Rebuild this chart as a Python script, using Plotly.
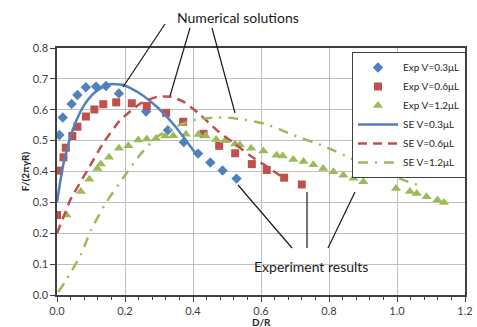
import plotly.graph_objects as go

# Experimental data
exp03_x = [0.007, 0.017, 0.043, 0.06, 0.085, 0.115, 0.144, 0.182, 0.262, 0.326, 0.373, 0.415, 0.451, 0.487, 0.528]
exp03_y = [0.518, 0.575, 0.619, 0.648, 0.673, 0.675, 0.677, 0.653, 0.594, 0.534, 0.495, 0.458, 0.429, 0.403, 0.377]

exp06_x = [0.0, 0.006, 0.019, 0.026, 0.045, 0.06, 0.085, 0.11, 0.136, 0.174, 0.22, 0.264, 0.321, 0.371, 0.431, 0.477, 0.524, 0.573, 0.617, 0.668, 0.72]
exp06_y = [0.259, 0.403, 0.446, 0.477, 0.515, 0.545, 0.578, 0.601, 0.618, 0.624, 0.621, 0.612, 0.59, 0.561, 0.522, 0.483, 0.459, 0.424, 0.405, 0.38, 0.358]

exp12_x = [0.028, 0.07, 0.095, 0.119, 0.129, 0.153, 0.182, 0.21, 0.239, 0.264, 0.291, 0.318, 0.342, 0.379, 0.416, 0.437, 0.468, 0.494, 0.524, 0.538, 0.571, 0.607, 0.646, 0.664, 0.695, 0.725, 0.754, 0.783, 0.813, 0.842, 0.872, 0.901, 0.997, 1.038, 1.058, 1.087, 1.119, 1.138]
exp12_y = [0.259, 0.335, 0.375, 0.41, 0.424, 0.446, 0.475, 0.483, 0.502, 0.505, 0.507, 0.515, 0.516, 0.521, 0.52, 0.515, 0.504, 0.5, 0.489, 0.486, 0.475, 0.466, 0.453, 0.45, 0.439, 0.432, 0.422, 0.41, 0.399, 0.388, 0.378, 0.367, 0.345, 0.335, 0.329, 0.318, 0.308, 0.3]

# Numerical (SE) solutions
se03_x = [0.0, 0.01, 0.02, 0.035, 0.055, 0.08, 0.11, 0.15, 0.195, 0.245, 0.295, 0.345, 0.38, 0.41]
se03_y = [0.30, 0.37, 0.43, 0.495, 0.56, 0.615, 0.655, 0.682, 0.68, 0.652, 0.608, 0.55, 0.50, 0.455]

se06_x = [0.0, 0.02, 0.04, 0.09, 0.135, 0.185, 0.245, 0.295, 0.335, 0.375, 0.42, 0.47, 0.52, 0.57, 0.62, 0.665]
se06_y = [0.20, 0.255, 0.31, 0.405, 0.49, 0.565, 0.62, 0.642, 0.642, 0.624, 0.585, 0.534, 0.492, 0.45, 0.414, 0.38]

se12_x = [0.004, 0.025, 0.07, 0.10, 0.145, 0.195, 0.245, 0.295, 0.36, 0.41, 0.47, 0.525, 0.61, 0.695, 0.785, 0.87, 0.94, 1.02, 1.065]
se12_y = [0.01, 0.045, 0.13, 0.21, 0.30, 0.38, 0.455, 0.513, 0.55, 0.568, 0.575, 0.572, 0.555, 0.518, 0.482, 0.44, 0.41, 0.372, 0.355]

x_ticks = [0.0, 0.2, 0.4, 0.6, 0.8, 1.0, 1.2]
y_ticks = [0.0, 0.1, 0.2, 0.3, 0.4, 0.5, 0.6, 0.7, 0.8]

BLUE = "#4F81BD"
RED = "#C0504D"
GREEN = "#9BBB59"
FONT = "Lato"

fig = go.Figure()
fig.add_trace(go.Scatter(x=exp03_x, y=exp03_y, mode="markers", name="Exp V=0.3μL",
                         marker=dict(symbol="diamond", size=8, color=BLUE)))
fig.add_trace(go.Scatter(x=exp06_x, y=exp06_y, mode="markers", name="Exp V=0.6μL",
                         marker=dict(symbol="square", size=8, color=RED)))
fig.add_trace(go.Scatter(x=exp12_x, y=exp12_y, mode="markers", name="Exp V=1.2μL",
                         marker=dict(symbol="triangle-up", size=9, color=GREEN)))
fig.add_trace(go.Scatter(x=se03_x, y=se03_y, mode="lines", name="SE V=0.3μL",
                         line=dict(color=BLUE, width=2.5, shape="spline", smoothing=0.6)))
fig.add_trace(go.Scatter(x=se06_x, y=se06_y, mode="lines", name="SE V=0.6μL",
                         line=dict(color=RED, width=2.5, dash="9px,6px", shape="spline", smoothing=0.6)))
fig.add_trace(go.Scatter(x=se12_x, y=se12_y, mode="lines", name="SE V=1.2μL",
                         line=dict(color=GREEN, width=2.5, dash="10px,7px,2px,7px", shape="spline", smoothing=0.6)))

W, H = 477, 327
L, R, T, B = 57, 12, 48, 32
pw, ph = W - L - R, H - T - B


def px2paper(px, py):
    return (px - L) / pw, (H - B - py) / ph


lines_px = [
    ((165, 24), (123, 87)),
    ((190, 28), (170, 96)),
    ((212, 28), (235, 113)),
    ((238, 185), (292, 248)),
    ((307, 192), (307, 248)),
    ((355, 192), (328, 248)),
]
shapes = []
for (a, b) in lines_px:
    x0, y0 = px2paper(*a)
    x1, y1 = px2paper(*b)
    shapes.append(dict(type="line", xref="paper", yref="paper", x0=x0, y0=y0, x1=x1, y1=y1,
                       line=dict(color="#1a1a1a", width=1.2)))

tx1, ty1 = px2paper(238, 17)
tx2, ty2 = px2paper(311, 266)
xt_x, xt_y = px2paper(261, 322)
annotations = [
    dict(text="Numerical solutions", xref="paper", yref="paper", x=tx1, y=ty1, showarrow=False,
         font=dict(family=FONT, size=14, color="#1a1a1a"), xanchor="center", yanchor="middle"),
    dict(text="Experiment results", xref="paper", yref="paper", x=tx2, y=ty2, showarrow=False,
         font=dict(family=FONT, size=14, color="#1a1a1a"), xanchor="center", yanchor="middle"),
    dict(text="<b>D/R</b>", xref="paper", yref="paper", x=xt_x, y=xt_y, showarrow=False,
         font=dict(family=FONT, size=10, color="#262626"), xanchor="center", yanchor="middle"),
]

lx0, ly0 = px2paper(466, 52)

fig.update_layout(
    width=W, height=H,
    margin=dict(l=L, r=R, t=T, b=B, pad=0, autoexpand=False),
    paper_bgcolor="white", plot_bgcolor="white",
    font=dict(family=FONT, size=11, color="#404040"),
    shapes=shapes, annotations=annotations,
    legend=dict(x=lx0, xanchor="right", y=ly0, yanchor="top",
                bgcolor="white", bordercolor="#404040", borderwidth=1,
                font=dict(family=FONT, size=10, color="#262626"),
                itemwidth=40, tracegroupgap=0),
    xaxis=dict(range=[0, 1.2], tickvals=x_ticks, ticktext=[f"{v:.1f}" for v in x_ticks],
               automargin=False,
               showgrid=True, gridcolor="#BFBFBF", gridwidth=1,
               showline=True, linecolor="#404040", linewidth=1.5, mirror=True,
               ticks="outside", ticklen=5, tickcolor="#404040",
               minor=dict(dtick=0.04, tick0=0, ticks="outside", ticklen=3, tickcolor="#404040", showgrid=False),
               zeroline=False),
    yaxis=dict(range=[0, 0.8], tickvals=y_ticks, ticktext=[f"{v:.1f}" for v in y_ticks],
               automargin=False,
               showgrid=True, gridcolor="#BFBFBF", gridwidth=1,
               showline=True, linecolor="#404040", linewidth=1.5, mirror=True,
               ticks="outside", ticklen=5, tickcolor="#404040",
               zeroline=False,
               title=dict(text="<b>F/(2πγR)</b>", font=dict(family=FONT, size=10, color="#262626"), standoff=1)),
)

fig.write_html("out.html",
               config={"displayModeBar": False},
               post_script="document.body.style.margin='0';document.body.style.padding='0';")
